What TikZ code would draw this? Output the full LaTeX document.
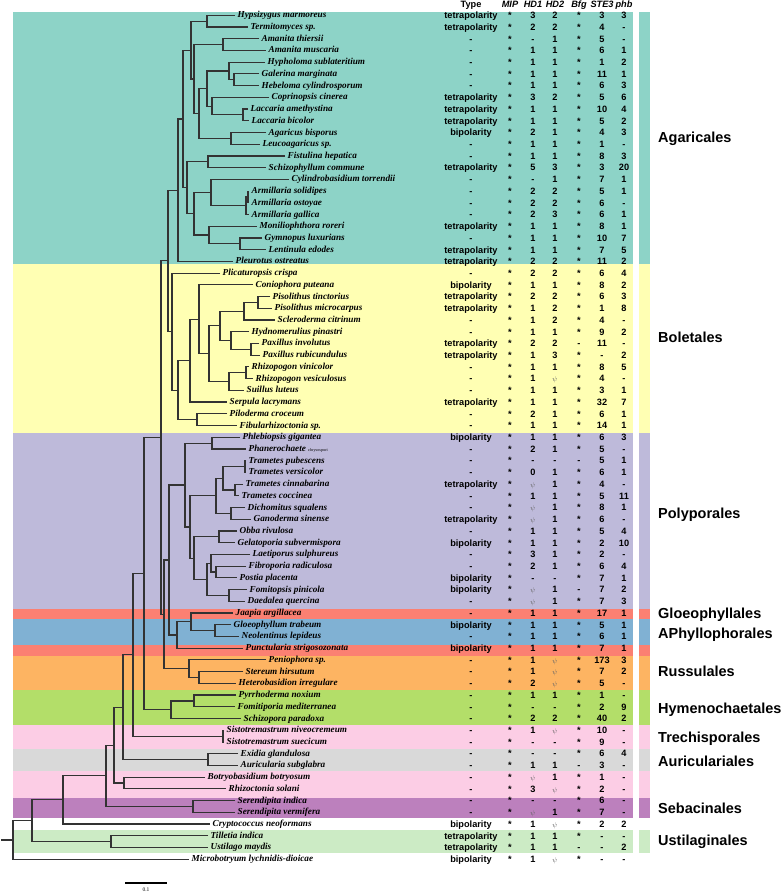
\documentclass[tikz,border=0pt]{standalone}
\usepackage{fontspec}
\setmainfont{Liberation Serif}
\setsansfont{Liberation Sans}
\usetikzlibrary{calc}
\definecolor{agar}{HTML}{8DD3C7}
\definecolor{bole}{HTML}{FFFFB3}
\definecolor{poly}{HTML}{BEBADA}
\definecolor{gloe}{HTML}{FB8072}
\definecolor{aphy}{HTML}{80B1D3}
\definecolor{russ}{HTML}{FDB462}
\definecolor{hyme}{HTML}{B3DE69}
\definecolor{trec}{HTML}{FCCDE5}
\definecolor{auri}{HTML}{D9D9D9}
\definecolor{seba}{HTML}{BC80BD}
\definecolor{usti}{HTML}{CCEBC5}
\newcommand\psy{{\color{black!60}\fontsize{7}{7}\selectfont$\psi$}}

\begin{document}
\begin{tikzpicture}[x=1pt, y=-1pt,
  branch/.style={line width=1.15pt, draw=black!80},
  taxon/.style={anchor=west, inner sep=0pt, text height=5pt, text depth=0pt, font=\fontsize{9.2}{10}\selectfont\bfseries\itshape},
  cell/.style={inner sep=0pt, text height=6.6pt, text depth=0pt, font=\sffamily\bfseries\fontsize{9.2}{10}\selectfont},
  head/.style={cell, font=\sffamily\bfseries\itshape\fontsize{9.2}{10}\selectfont},
  order/.style={anchor=west, inner sep=0pt, text height=10.4pt, text depth=0pt, font=\sffamily\bfseries\fontsize{14.5}{16}\selectfont}]
  \useasboundingbox (0,0) rectangle (784,892);

  % coloured bands and side strip
  \foreach \ya/\yb/\col in {12.3/264.3/agar, 264.3/432.7/bole, 432.7/609/poly, 609/619/gloe, 619/645/aphy, 645/655.5/gloe, 655.5/690/russ, 690/725/hyme, 725/749/trec, 749/771/auri, 771/797.7/trec, 797.7/817.7/seba, 830/852.7/usti}
  {
    \fill[fill=\col] (13,\ya) rectangle (633,\yb);
    \fill[fill=\col] (639,\ya) rectangle (650,\yb);
  }

  % header
  \node[cell] (hty) at (471,4.5) {Type};
  \foreach \h/\cx in {MIP/510, HD1/533, HD2/555, Bfg/579, STE3/602, phb/624}
    \node[head] (h\h) at (\cx,4.5) {\h};

  % leaves and table rows
  \foreach \xe/\tx/\ty/\mi/\hda/\hdb/\bfg/\ste/\phb [count=\row] in {
    235/Hypsizygus marmoreus/tetrapolarity/*/3/2/*/3/3,
    248/Termitomyces sp./tetrapolarity/*/2/2/*/4/-,
    259/Amanita thiersii/-/*/-/1/*/5/-,
    266/Amanita muscaria/-/*/1/1/*/6/1,
    265/Hypholoma sublateritium/-/*/1/1/*/1/2,
    259/Galerina marginata/-/*/1/1/*/11/1,
    259/Hebeloma cylindrosporum/-/*/1/1/*/6/3,
    269/Coprinopsis cinerea/tetrapolarity/*/3/2/*/5/6,
    248/Laccaria amethystina/tetrapolarity/*/1/1/*/10/4,
    249/Laccaria bicolor/tetrapolarity/*/1/1/*/5/2,
    266/Agaricus bisporus/bipolarity/*/2/1/*/4/3,
    260/Leucoagaricus sp./-/*/1/1/*/1/-,
    285/Fistulina hepatica/-/*/1/1/*/8/3,
    266/Schizophyllum commune/tetrapolarity/*/5/3/*/3/20,
    289/Cylindrobasidium torrendii/-/*/-/1/*/7/1,
    249/Armillaria solidipes/-/*/2/2/*/5/1,
    249/Armillaria ostoyae/-/*/2/2/*/6/-,
    249/Armillaria gallica/-/*/2/3/*/6/1,
    257/Moniliophthora roreri/tetrapolarity/*/1/1/*/8/1,
    262/Gymnopus luxurians/-/*/1/1/*/10/7,
    266/Lentinula edodes/tetrapolarity/*/1/1/*/7/5,
    233/Pleurotus ostreatus/tetrapolarity/*/2/2/*/11/2,
    220/Plicaturopsis crispa/-/*/2/2/*/6/4,
    253/Coniophora puteana/bipolarity/*/1/1/*/8/2,
    270/Pisolithus tinctorius/tetrapolarity/*/2/2/*/6/3,
    272/Pisolithus microcarpus/tetrapolarity/*/1/2/*/1/8,
    275/Scleroderma citrinum/-/*/1/2/*/4/-,
    249/Hydnomerulius pinastri/-/*/1/1/*/9/2,
    259/Paxillus involutus/tetrapolarity/*/2/2/-/11/-,
    260/Paxillus rubicundulus/tetrapolarity/*/1/3/*/-/2,
    249/Rhizopogon vinicolor/-/*/1/1/*/8/5,
    253/Rhizopogon vesiculosus/-/*/1/\psy/*/4/-,
    244/Suillus luteus/-/*/1/1/*/3/1,
    227/Serpula lacrymans/tetrapolarity/*/1/1/*/32/7,
    227/Piloderma croceum/-/*/2/1/*/6/1,
    237/Fibularhizoctonia sp./-/*/1/1/*/14/1,
    240/Phlebiopsis gigantea/bipolarity/*/1/1/*/6/3,
    246/Phanerochaete {\fontsize{4.2}{5}\selectfont\mdseries\upshape chrysospori}/-/*/2/1/*/5/-,
    246/Trametes pubescens/-/*/-/-/-/5/1,
    246/Trametes versicolor/-/*/0/1/*/6/1,
    243/Trametes cinnabarina/tetrapolarity/*/\psy/1/*/4/-,
    239/Trametes coccinea/-/*/1/1/*/5/11,
    245/Dichomitus squalens/-/*/\psy/1/*/8/1,
    251/Ganoderma sinense/tetrapolarity/*/\psy/1/*/6/-,
    237/Obba rivulosa/-/*/1/1/*/5/4,
    235/Gelatoporia subvermispora/bipolarity/*/1/1/*/2/10,
    250/Laetiporus sulphureus/-/*/3/1/*/2/-,
    246/Fibroporia radiculosa/-/*/2/1/*/6/4,
    237/Postia placenta/bipolarity/*/-/-/*/7/1,
    247/Fomitopsis pinicola/bipolarity/*/\psy/1/-/7/2,
    245/Daedalea quercina/-/*/\psy/1/*/7/3,
    233/Jaapia argillacea/-/*/1/1/*/17/1,
    231/Gloeophyllum trabeum/bipolarity/*/1/1/*/5/1,
    239/Neolentinus lepideus/-/*/1/1/*/6/1,
    243/Punctularia strigosozonata/bipolarity/*/1/1/*/7/1,
    266/Peniophora sp./-/*/1/\psy/*/173/3,
    243/Stereum hirsutum/-/*/1/\psy/*/7/2,
    236/Heterobasidion irregulare/-/*/2/\psy/*/5/-,
    236/Pyrrhoderma noxium/-/*/1/1/*/1/-,
    235/Fomitiporia mediterranea/-/*/-/-/*/2/9,
    241/Schizopora paradoxa/-/*/2/2/*/40/2,
    224/Sistotremastrum niveocremeum/-/*/1/\psy/*/10/-,
    224/Sistotremastrum suecicum/-/*/-/-/*/9/-,
    238/Exidia glandulosa/-/*/-/-/*/6/4,
    238/Auricularia subglabra/-/*/1/1/-/3/-,
    205/Botryobasidium botryosum/-/*/\psy/1/*/1/-,
    226/Rhizoctonia solani/-/*/3/\psy/*/2/-,
    235/Serendipita indica/-/*/-/-/*/6/-,
    235/Serendipita vermifera/-/*/\psy/1/*/7/-,
    210/Cryptococcus neoformans/bipolarity/*/1/\psy/*/2/2,
    208/Tilletia indica/tetrapolarity/*/1/1/*/-/-,
    208/Ustilago maydis/tetrapolarity/*/1/1/-/-/2,
    189/Microbotryum lychnidis-dioicae/bipolarity/*/1/\psy/*/-/-}
  {
    \coordinate (l\row) at (\xe,{15.3+(\row-1)*11.72});
    \node[taxon] (t\row) at ([xshift=2.5pt]l\row) {\tx};
    \foreach \v/\cx in {\ty/471, \mi/510, \hda/533, \hdb/555, \bfg/579, \ste/602, \phb/624}
      \node[cell] (c\row-\cx) at (\cx,{15.3+(\row-1)*11.72}) {\v};
  }

  % tree
  \foreach \pn/\xp/\ca/\cb in {
    hte/207/l1/l2, ama/223/l3/l4, geb/234/l6/l7, hyg/229/l5/geb, lac/243/l9/l10,
    col/212/l8/lac, hc/207/hyg/col, agl/231/l11/l12, xag/199/hc/agl, yag/194/ama/xag,
    zag/191/hte/yag, fis/208/l13/l14, arma/248/l16/l17, arm/246/arma/l18, cyl/211/l15/arm,
    gym/240/l20/l21, mon/209/l19/gym, mar/194/cyl/mon, lo/187/fis/mar, up/183/zag/lo,
    aga/178/up/l22,
    pis/258/l25/l26, scl/244/pis/l27, pax/251/l29/l30, hyd/231/l28/pax, ph/220/scl/hyd,
    rhi/246/l31/l32, sui/229/rhi/l33, boa/209/ph/sui, con/199/l24/boa, ser/190/con/l34,
    pil/197/l35/l36, bob/178/ser/pil, bol/172/l23/bob, ab/168/aga/bol,
    phl/212/l37/l38, tpv/245/l39/l40, tcc/235/l41/l42, tra/223/tpv/tcc, dic/231/l43/l44,
    trd/216/tra/dic, obb/219/l45/l46, fpo/216/l48/l49, lae/211/l47/fpo, fda/229/l50/l51,
    lfd/207/lae/fda, ant/194/obb/lfd, cor/190/trd/ant, pol/185/phl/cor,
    glo/215/l53/l54, jgl/191/l52/glo, gpu/177/jgl/l55, pg/169/pol/gpu,
    shr/199/l57/l58, rus/189/l56/shr, pgr/164/pg/rus, abpr/161/ab/pgr,
    pyf/194/l59/l60, hym/171/pyf/l61, abh/144/abpr/hym, sis/223/l62/l63, abs/133/abh/sis,
    aur/208/l64/l65, aba/123/abs/aur, bot/124/l66/l67, abb/114/aba/bot, sen/193/l68/l69,
    abz/106/abb/sen, agm/63/abz/l70, ust/111/l71/l72, bas/32/agm/ust, root/13/bas/l73}
  {
    \path let \p1=(\ca), \p2=(\cb) in ({\xp*1pt},{(\y1+\y2)/2}) coordinate (\pn);
    \draw[branch] (\ca) -| (\pn) |- (\cb);
  }
  \coordinate (stub) at (root -| 1,0);
  \draw[branch] (root) -- (stub);

  % order labels
  \foreach \nm/\yl [count=\k] in {Agaricales/137, Boletales/337, Polyporales/513, Gloeophyllales/613,
    APhyllophorales/633, Russulales/671, Hymenochaetales/708, Trechisporales/737,
    Auriculariales/761, Sebacinales/808, Ustilaginales/840}
    \node[order] (o\k) at (658,\yl) {\nm};

  % scale bar
  \coordinate (sba) at (125,883);
  \coordinate (sbb) at (167,883);
  \draw[branch, draw=black, line width=1.4pt] (sba) -- (sbb);
  \node[inner sep=0pt, font=\fontsize{5.5}{6}\selectfont] (sbl) at (146,889.5) {0.1};
\end{tikzpicture}
\end{document}
